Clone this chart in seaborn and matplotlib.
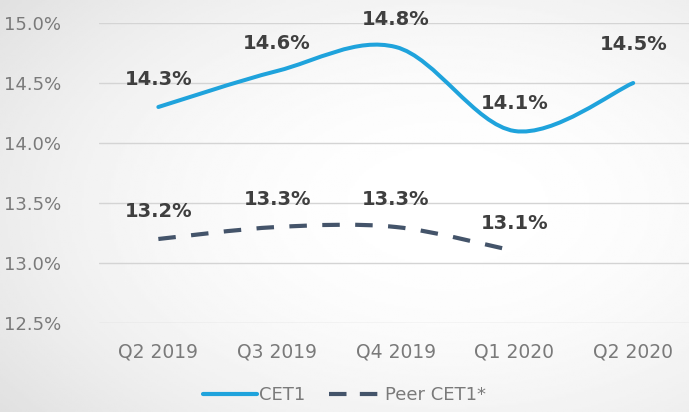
import numpy as np
import matplotlib
matplotlib.use('Agg')
import matplotlib.pyplot as plt
from matplotlib.path import Path
from matplotlib.patches import PathPatch
from matplotlib.lines import Line2D
import seaborn as sns

# data
quarters = ['Q2 2019', 'Q3 2019', 'Q4 2019', 'Q1 2020', 'Q2 2020']
cet1 = [14.3, 14.6, 14.8, 14.1, 14.5]
peer_cet1 = [13.2, 13.3, 13.3, 13.1]
yticks = [12.5, 13.0, 13.5, 14.0, 14.5, 15.0]

blue = '#1fa3dc'
slate = '#44546a'
dash = (0, (4.2, 3.7))

sns.set_theme(style='white')
plt.rcParams['font.family'] = ['DejaVu Sans']


def smooth_path(ys):
    # excel-like smoothed line: cubic bezier through the points
    xs = np.arange(len(ys), dtype=float)
    pts = np.column_stack([xs, np.asarray(ys, dtype=float)])
    verts = [pts[0]]
    codes = [Path.MOVETO]
    n = len(pts)
    for i in range(n - 1):
        p0 = pts[max(i - 1, 0)]
        p1 = pts[i]
        p2 = pts[i + 1]
        p3 = pts[min(i + 2, n - 1)]
        verts += [p1 + (p2 - p0) / 6, p2 - (p3 - p1) / 6, p2]
        codes += [Path.CURVE4] * 3
    return Path(verts, codes)


fig = plt.figure(figsize=(6.89, 4.12), dpi=100)

# grey background, lighter towards the centre-right
bg = fig.add_axes([0, 0, 1, 1], zorder=-10)
gx, gy = np.meshgrid(np.linspace(-1, 1, 300), np.linspace(-1, 1, 200))
d = np.sqrt((gx - 0.3) ** 2 + gy ** 2) / 1.64
bg.imshow(1 - 0.12 * d ** 2, cmap='gray', vmin=0, vmax=1, aspect='auto',
          extent=[0, 1, 0, 1])
bg.axis('off')

ax = fig.add_axes([99 / 689, 1 - 323 / 412, 1 - 99 / 689, 300 / 412])
ax.patch.set_alpha(0)

# invisible seaborn lines set up the axes
sns.lineplot(x=list(range(len(cet1))), y=cet1, ax=ax, alpha=0)
sns.lineplot(x=list(range(len(peer_cet1))), y=peer_cet1, ax=ax, alpha=0)

ax.add_patch(PathPatch(smooth_path(cet1), fill=False, edgecolor=blue,
                       lw=2.9, capstyle='round', zorder=3))
ax.add_patch(PathPatch(smooth_path(peer_cet1), fill=False, edgecolor=slate,
                       lw=3.0, linestyle=dash, capstyle='butt', zorder=3))

lbl = dict(ha='center', va='center', fontsize=14, fontweight='bold',
           color='#3f3f3f', textcoords='offset points', annotation_clip=False)
cet1_off = [20, 20, 20, 20, 28]
for i, v in enumerate(cet1):
    ax.annotate(f'{v:.1f}%', (i, v), xytext=(0, cet1_off[i]), **lbl)
for i, v in enumerate(peer_cet1):
    ax.annotate(f'{v:.1f}%', (i, v), xytext=(0, 20), **lbl)

ax.set_xlim(-0.5, 4.47)
ax.set_ylim(12.5, 15.0)
ax.set_yticks(yticks)
ax.set_yticklabels([f'{t:.1f}%' for t in yticks])
ax.set_xticks(range(len(quarters)))
ax.set_xticklabels(quarters)
ax.tick_params(axis='y', length=0, pad=27, labelsize=13, labelcolor='#7a7a7a')
ax.tick_params(axis='x', length=0, pad=14, labelsize=13.5, labelcolor='#7a7a7a')
ax.grid(axis='y', color='#d4d4d4', lw=1)
ax.grid(axis='x', visible=False)
for s in ax.spines.values():
    s.set_visible(False)

handles = [Line2D([], [], color=blue, lw=3),
           Line2D([], [], color=slate, lw=3, linestyle=(0, (4.2, 3.2)))]
fig.legend(handles, ['CET1', 'Peer CET1*'], loc='center',
           bbox_to_anchor=(0.5, 1 - 395 / 412), ncol=2, frameon=False,
           fontsize=13, labelcolor='#7a7a7a', handlelength=3.0,
           handletextpad=0.1, columnspacing=1.3)

fig.savefig('out.png', dpi=100)
